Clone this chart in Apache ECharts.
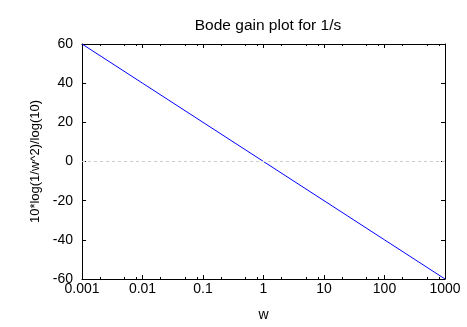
<!DOCTYPE html>
<html>
<head>
<meta charset="utf-8">
<script src="https://cdn.jsdelivr.net/npm/echarts@6/dist/echarts.min.js"></script>
<style>
  html, body { margin: 0; padding: 0; background: #fff; }
  #chart { width: 467px; height: 327px; }
</style>
</head>
<body>
<div id="chart"></div>
<script>
// Gain of 1/s in dB over a log frequency axis
const freqs = [0.001, 0.01, 0.1, 1, 10, 100, 1000];
const gainDb = [60, 40, 20, 0, -20, -40, -60];
const yTicks = [-60, -40, -20, 0, 20, 40, 60];
const minorSteps = [2, 5, 8];

const font = 'Liberation Sans, Arial, sans-serif';
const chart = echarts.init(document.getElementById('chart'), null, { renderer: 'canvas' });

// minor tick positions inside each decade
const minorValues = [];
for (let i = 0; i < freqs.length - 1; i++) {
  minorSteps.forEach(m => minorValues.push(+(freqs[i] * m).toPrecision(6)));
}

const baseX = {
  type: 'log', logBase: 10, min: freqs[0], max: freqs[freqs.length - 1],
  axisLine: { show: true, onZero: false, lineStyle: { color: '#000', width: 1 } },
  axisTick: { inside: true, length: 4, lineStyle: { color: '#000' } },
  splitLine: { show: false }
};
const minorX = pos => ({
  type: 'log', logBase: 10, min: freqs[0], max: freqs[freqs.length - 1],
  position: pos,
  axisLine: { show: false, onZero: false },
  axisTick: { show: true, inside: true, length: 2, customValues: minorValues, lineStyle: { color: '#000' } },
  axisLabel: { show: false },
  splitLine: { show: false }
});
const baseY = {
  type: 'value', min: yTicks[0], max: yTicks[yTicks.length - 1], interval: 20,
  axisLine: { show: true, onZero: false, lineStyle: { color: '#000', width: 1 } },
  axisTick: { inside: true, length: 4, lineStyle: { color: '#000' } },
  splitLine: { show: false }
};

chart.setOption({
  animation: false,
  backgroundColor: '#fff',
  title: {
    text: 'Bode gain plot for 1/s',
    left: 263, top: 13, textAlign: 'center',
    textStyle: { fontFamily: font, fontSize: 15.5, fontWeight: 'normal', color: '#000' }
  },
  grid: { left: 82, right: 22, top: 44, bottom: 48 },
  xAxis: [
    Object.assign({}, baseX, {
      position: 'bottom',
      name: 'w', nameLocation: 'middle', nameGap: 29,
      nameTextStyle: { fontFamily: font, fontSize: 14, color: '#000' },
      axisLabel: {
        fontFamily: font, fontSize: 14, color: '#000', margin: 3,
        formatter: v => String(v)
      }
    }),
    Object.assign({}, baseX, { position: 'top', axisLabel: { show: false } }),
    minorX('bottom'),
    minorX('top')
  ],
  yAxis: [
    Object.assign({}, baseY, {
      position: 'left',
      name: '10*log(1/w^2)/log(10)', nameLocation: 'middle', nameGap: 40,
      nameTextStyle: { fontFamily: font, fontSize: 13, color: '#000' },
      axisLabel: { fontFamily: font, fontSize: 14, color: '#000', margin: 9 }
    }),
    Object.assign({}, baseY, { position: 'right', axisLabel: { show: false } })
  ],
  series: [{
    type: 'line',
    xAxisIndex: 0, yAxisIndex: 0,
    data: freqs.map((w, i) => [w, gainDb[i]]),
    showSymbol: false,
    lineStyle: { color: '#0000ff', width: 1 },
    markLine: {
      silent: true, symbol: 'none', label: { show: false },
      lineStyle: { color: '#cccccc', type: [3, 3], width: 1 },
      data: [{ yAxis: 0 }]
    },
    z: 3
  }]
});
</script>
</body>
</html>
